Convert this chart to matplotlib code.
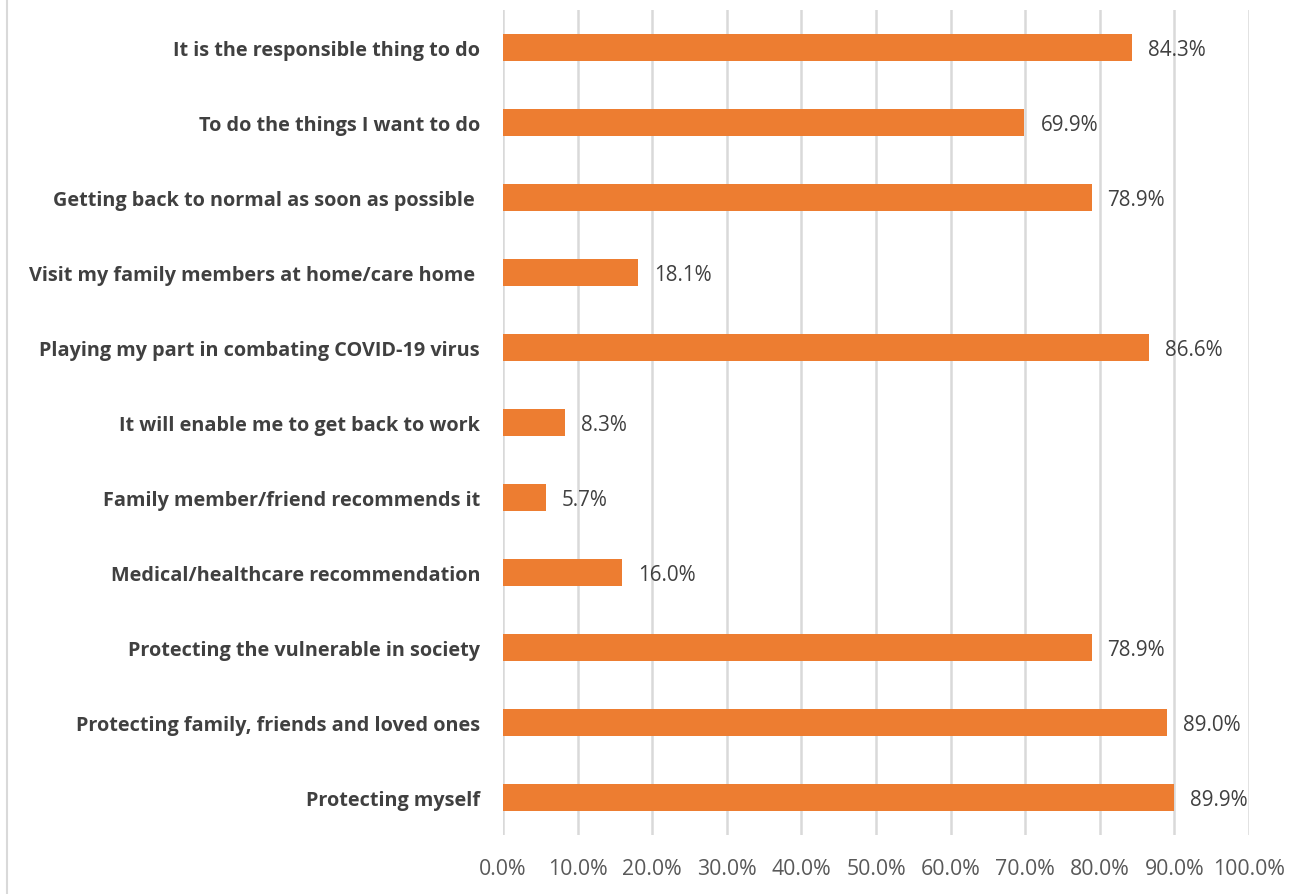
import matplotlib
matplotlib.use("Agg")
import matplotlib.pyplot as plt
from matplotlib.lines import Line2D
from matplotlib.ticker import MultipleLocator, FuncFormatter

categories = [
    "It is the responsible thing to do",
    "To do the things I want to do",
    "Getting back to normal as soon as possible ",
    "Visit my family members at home/care home ",
    "Playing my part in combating COVID-19 virus",
    "It will enable me to get back to work",
    "Family member/friend recommends it",
    "Medical/healthcare recommendation",
    "Protecting the vulnerable in society",
    "Protecting family, friends and loved ones",
    "Protecting myself",
]
values = [84.3, 69.9, 78.9, 18.1, 86.6, 8.3, 5.7, 16.0, 78.9, 89.0, 89.9]

W, H, DPI = 1313, 895, 100
FONT = "Open Sans"
fig = plt.figure(figsize=(W / DPI, H / DPI), dpi=DPI)
fig.patch.set_facecolor("white")

ax = fig.add_axes([503 / W, 1 - 836 / H, (1249 - 503) / W, (836 - 11) / H])

n = len(categories)
ypos = list(range(n))[::-1]
ax.barh(ypos, values, height=0.355, color="#ED7D31", zorder=3)

ax.set_xlim(0, 100)
ax.set_ylim(-0.5, n - 0.5)
ax.xaxis.set_major_locator(MultipleLocator(10))
ax.xaxis.set_major_formatter(FuncFormatter(lambda v, p: f"{v:.1f}%"))
ax.grid(axis="x", color="#D9D9D9", linewidth=1.8, zorder=0)
ax.set_yticks(ypos)
ax.set_yticklabels(categories, fontfamily=FONT, fontweight="bold",
                   fontsize=14.3, color="#404040")
for lbl in ax.get_xticklabels():
    lbl.set_fontfamily(FONT)
    lbl.set_fontsize(15.3)
    lbl.set_color("#595959")
ax.tick_params(axis="y", length=0, pad=16.5)
ax.tick_params(axis="x", length=0, pad=16.5)
for s in ax.spines.values():
    s.set_visible(False)

for y, v in zip(ypos, values):
    ax.annotate(f"{v:.1f}%", xy=(v, y), xytext=(11.5, -1.5), textcoords="offset points",
                ha="left", va="center", fontfamily=FONT, fontsize=14.9,
                color="#404040", zorder=4)

fig.add_artist(Line2D([6.5 / W, 6.5 / W], [0, 1], color="#D9D9D9", linewidth=1.5,
                      transform=fig.transFigure))

fig.savefig("out.png", dpi=DPI, facecolor="white")
